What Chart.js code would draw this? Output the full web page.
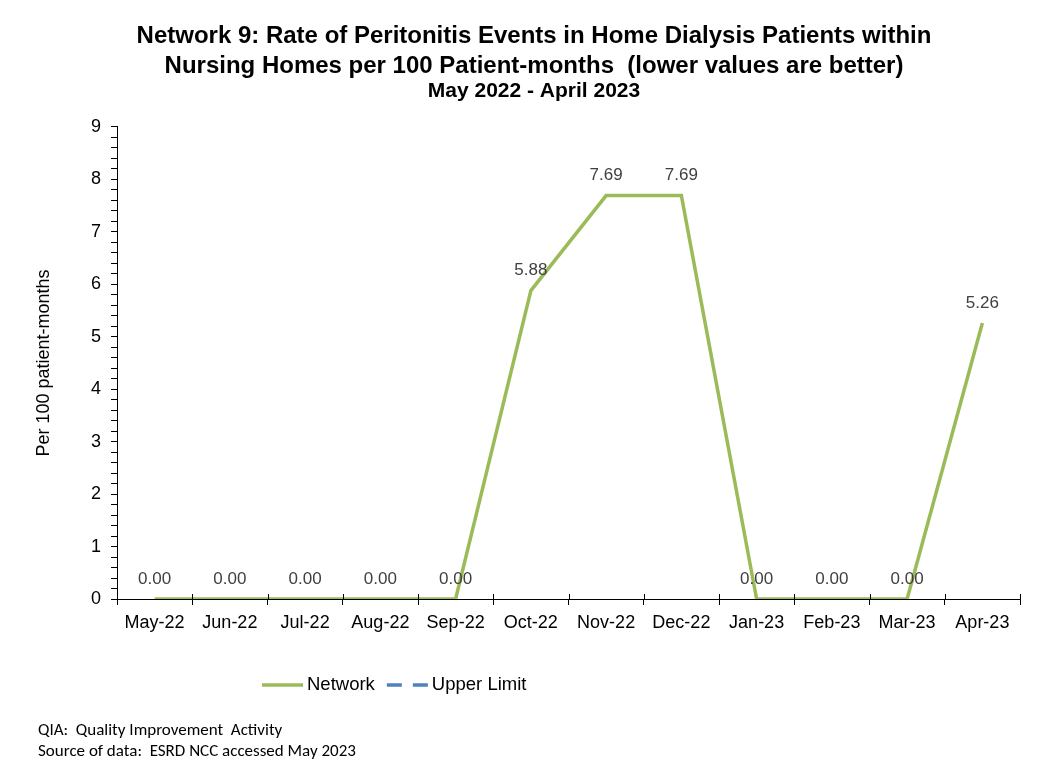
<!DOCTYPE html>
<html>
<head>
<meta charset="utf-8">
<script src="https://cdn.jsdelivr.net/npm/chart.js@4.4.1/dist/chart.umd.min.js"></script>
<style>
  html, body { margin: 0; padding: 0; background: #fff; }
  #wrap { position: relative; width: 1048px; height: 768px; }
  #notes {
    position: absolute; left: 38px; top: 719px;
    font-family: Carlito, Lato, "Liberation Sans", sans-serif;
    font-size: 17px; line-height: 21px; color: #000; white-space: pre;
  }
</style>
</head>
<body>
<div id="wrap">
  <canvas id="chart" width="1048" height="768"></canvas>
  <div id="notes">QIA:  Quality Improvement  Activity
Source of data:  ESRD NCC accessed May 2023</div>
</div>
<script>
// Chart data
const months = ['May-22', 'Jun-22', 'Jul-22', 'Aug-22', 'Sep-22', 'Oct-22',
                'Nov-22', 'Dec-22', 'Jan-23', 'Feb-23', 'Mar-23', 'Apr-23'];
const networkRates = [0, 0, 0, 0, 0, 5.88, 7.69, 7.69, 0, 0, 0, 5.26];
const upperLimit = [null, null, null, null, null, null, null, null, null, null, null, null];
const yTicksMin = 0;
const yTicksMax = 9;

const FONT = '"Liberation Sans", Arial, sans-serif';

// Draws the value above each point of the Network line
const valueLabels = {
    id: 'valueLabels',
    afterDatasetsDraw(chart) {
        const meta = chart.getDatasetMeta(0);
        const ctx = chart.ctx;
        ctx.save();
        ctx.font = '17px ' + FONT;
        ctx.fillStyle = '#404040';
        ctx.textAlign = 'center';
        ctx.textBaseline = 'middle';
        meta.data.forEach((pt, i) => {
            const v = networkRates[i];
            if (v === null) return;
            ctx.fillText(v.toFixed(2), pt.x, pt.y - 20);
        });
        ctx.restore();
    }
};

// Excel "cross" tick marks: add the half above the x axis
const crossTicks = {
    id: 'crossTicks',
    afterDraw(chart) {
        const xs = chart.scales.x;
        const ctx = chart.ctx;
        ctx.save();
        ctx.strokeStyle = '#000';
        ctx.lineWidth = 1;
        ctx.beginPath();
        for (let i = 0; i <= months.length; i++) {
            const px = Math.round(xs.getPixelForValue(i - 0.5)) + 0.5;
            ctx.moveTo(px, xs.top);
            ctx.lineTo(px, xs.top - 5);
        }
        ctx.stroke();
        ctx.restore();
    }
};

// Excel-like legend: line sample + label, placed left of centre under the axis
const lineLegend = {
    id: 'lineLegend',
    afterDraw(chart) {
        const ctx = chart.ctx;
        const y = 685;
        let x = 262;
        ctx.save();
        ctx.font = '18.5px ' + FONT;
        ctx.textBaseline = 'middle';
        ctx.textAlign = 'left';
        chart.data.datasets.forEach(ds => {
            ctx.beginPath();
            ctx.setLineDash(ds.borderDash || []);
            ctx.lineWidth = 3.5;
            ctx.strokeStyle = ds.borderColor;
            ctx.moveTo(x, y);
            ctx.lineTo(x + 41, y);
            ctx.stroke();
            ctx.setLineDash([]);
            ctx.fillStyle = '#000';
            ctx.fillText(ds.label, x + 45, y);
            x += 45 + ctx.measureText(ds.label).width + 12;
        });
        ctx.restore();
    }
};

// the Excel title sits a little right of the canvas centre
const titleShift = {
    id: 'titleShift',
    beforeDraw(chart) {
        chart.boxes.forEach(b => {
            if (b.position === 'top' && b.options && b.options.text !== undefined) {
                b.left = 20;
                b.right = 1048;
            }
        });
    }
};

new Chart(document.getElementById('chart'), {
    type: 'line',
    data: {
        labels: months,
        datasets: [
            {
                label: 'Network',
                data: networkRates,
                borderColor: '#9BBB59',
                backgroundColor: '#9BBB59',
                borderWidth: 3.5,
                pointRadius: 0,
                tension: 0
            },
            {
                label: 'Upper Limit',
                data: upperLimit,
                borderColor: '#4F81BD',
                backgroundColor: '#4F81BD',
                borderWidth: 3.5,
                borderDash: [15, 11],
                pointRadius: 0
            }
        ]
    },
    options: {
        responsive: false,
        animation: false,
        layout: { padding: { left: 0, right: 28, top: 0, bottom: 101 } },
        plugins: {
            title: {
                display: true,
                text: ['Network 9: Rate of Peritonitis Events in Home Dialysis Patients within',
                       'Nursing Homes per 100 Patient-months  (lower values are better)'],
                color: '#000',
                font: { family: FONT, size: 24, weight: 'bold', lineHeight: 1.25 },
                padding: { top: 21, bottom: 0 }
            },
            subtitle: {
                display: true,
                text: 'May 2022 - April 2023',
                color: '#000',
                font: { family: FONT, size: 21, weight: 'bold', lineHeight: 0.9 },
                padding: { top: 1, bottom: 26 }
            },
            legend: { display: false },
            tooltip: { enabled: false }
        },
        scales: {
            x: {
                offset: true,
                afterFit(scale) { scale.height = 68; },
                grid: {
                    offset: true,
                    drawOnChartArea: false,
                    drawTicks: true,
                    tickLength: 6,
                    color: '#000'
                },
                border: { color: '#000', width: 1 },
                ticks: {
                    color: '#000',
                    font: { family: FONT, size: 18 },
                    padding: 7,
                    maxRotation: 0,
                    autoSkip: false
                }
            },
            y: {
                min: yTicksMin,
                max: yTicksMax,
                afterFit(scale) { scale.width = 117; },
                grid: {
                    drawOnChartArea: false,
                    drawTicks: true,
                    tickLength: 6,
                    color: '#000'
                },
                border: { color: '#000', width: 1 },
                ticks: {
                    stepSize: 0.2,
                    maxTicksLimit: 100,
                    autoSkip: false,
                    color: '#000',
                    font: { family: FONT, size: 18 },
                    padding: 10,
                    callback(value) {
                        return Math.abs(value - Math.round(value)) < 1e-6 ? String(Math.round(value)) : '';
                    }
                },
                title: {
                    display: true,
                    text: 'Per 100 patient-months',
                    color: '#000',
                    font: { family: FONT, size: 18 },
                    padding: { top: 33, bottom: 0 }
                }
            }
        }
    },
    plugins: [valueLabels, crossTicks, lineLegend, titleShift]
});
</script>
</body>
</html>
